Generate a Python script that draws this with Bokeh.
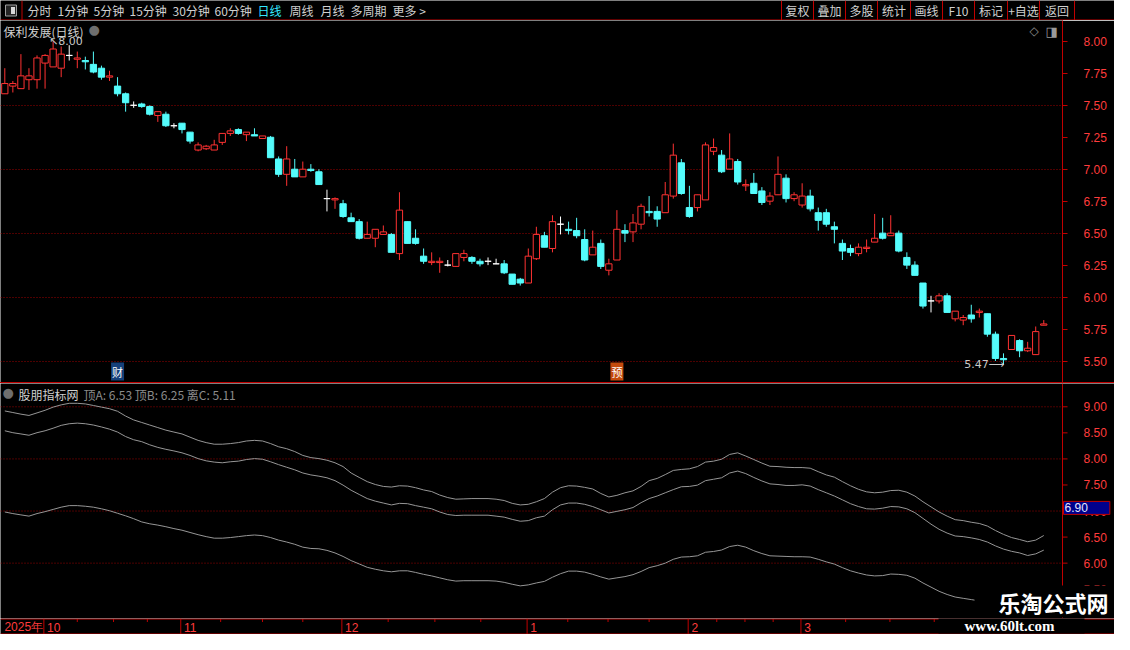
from bokeh.plotting import figure
from bokeh.models import Range1d, FixedTicker, Label, Span, ColumnDataSource, NumeralTickFormatter, Div
from bokeh.layouts import column
from bokeh.embed import file_html
from bokeh.resources import INLINE
from bokeh.core.properties import value

# ------------------------------------------------------------------ data
stock_name = "保利发展"
period_name = "日线"

opens = [7.59, 7.65, 7.63, 7.70, 7.70, 7.83, 7.80, 7.79, 7.89, 7.86,
         7.85, 7.82, 7.79, 7.72, 7.65, 7.59, 7.50, 7.51, 7.49, 7.42,
         7.43, 7.34, 7.36, 7.29, 7.15, 7.16, 7.15, 7.21, 7.28, 7.31,
         7.27, 7.27, 7.24, 7.25, 7.08, 6.96, 7.00, 6.94, 7.00, 6.98,
         6.77, 6.76, 6.73, 6.62, 6.59, 6.46, 6.46, 6.49, 6.49, 6.34,
         6.59, 6.46, 6.32, 6.27, 6.27, 6.25, 6.24, 6.31, 6.31, 6.28,
         6.28, 6.26, 6.26, 6.18, 6.14, 6.11, 6.30, 6.48, 6.38, 6.57,
         6.53, 6.52, 6.45, 6.33, 6.42, 6.21, 6.29, 6.52, 6.51, 6.57,
         6.67, 6.67, 6.66, 6.79, 7.05, 6.70, 6.70, 6.76, 7.14, 7.11,
         7.00, 7.06, 6.87, 6.89, 6.83, 6.75, 6.80, 6.93, 6.77, 6.72,
         6.79, 6.66, 6.66, 6.55, 6.42, 6.38, 6.34, 6.38, 6.43, 6.50,
         6.48, 6.50, 6.31, 6.25, 6.11, 5.97, 5.97, 6.01, 5.83, 5.82,
         5.86, 5.88, 5.87, 5.71, 5.52, 5.59, 5.66, 5.58, 5.55, 5.78]

highs = [7.79, 7.69, 7.90, 7.79, 7.89, 7.90, 8.00, 7.96, 7.97, 7.92,
         7.88, 7.92, 7.81, 7.77, 7.72, 7.60, 7.53, 7.52, 7.50, 7.45,
         7.45, 7.36, 7.36, 7.29, 7.21, 7.19, 7.23, 7.28, 7.32, 7.32,
         7.29, 7.32, 7.26, 7.26, 7.10, 7.18, 7.08, 7.06, 7.04, 7.00,
         6.84, 6.78, 6.76, 6.66, 6.61, 6.59, 6.53, 6.56, 6.50, 6.82,
         6.59, 6.53, 6.38, 6.35, 6.31, 6.29, 6.34, 6.37, 6.32, 6.30,
         6.31, 6.30, 6.29, 6.18, 6.15, 6.38, 6.55, 6.51, 6.64, 6.63,
         6.59, 6.62, 6.53, 6.52, 6.45, 6.30, 6.68, 6.57, 6.65, 6.73,
         6.79, 6.71, 6.90, 7.20, 7.08, 6.87, 6.80, 7.21, 7.24, 7.15,
         7.28, 7.08, 6.92, 6.97, 6.86, 6.82, 7.10, 6.96, 6.82, 6.89,
         6.84, 6.70, 6.69, 6.59, 6.45, 6.41, 6.42, 6.45, 6.65, 6.62,
         6.64, 6.52, 6.35, 6.28, 6.11, 6.01, 6.03, 6.03, 5.89, 5.86,
         5.94, 5.91, 5.87, 5.73, 5.56, 5.70, 5.67, 5.65, 5.77, 5.82]

lows = [7.59, 7.60, 7.63, 7.62, 7.63, 7.63, 7.80, 7.72, 7.85, 7.79,
        7.78, 7.75, 7.70, 7.69, 7.57, 7.45, 7.48, 7.48, 7.42, 7.37,
        7.33, 7.32, 7.28, 7.20, 7.14, 7.15, 7.15, 7.19, 7.26, 7.27,
        7.22, 7.26, 7.24, 7.09, 6.94, 6.87, 6.94, 6.94, 6.98, 6.88,
        6.67, 6.69, 6.62, 6.59, 6.45, 6.46, 6.39, 6.49, 6.35, 6.29,
        6.42, 6.41, 6.26, 6.25, 6.19, 6.24, 6.24, 6.28, 6.26, 6.24,
        6.25, 6.26, 6.18, 6.10, 6.09, 6.11, 6.29, 6.39, 6.35, 6.49,
        6.49, 6.46, 6.28, 6.33, 6.22, 6.17, 6.29, 6.43, 6.43, 6.53,
        6.63, 6.55, 6.66, 6.77, 6.80, 6.62, 6.67, 6.76, 7.11, 6.97,
        7.00, 6.88, 6.83, 6.81, 6.72, 6.72, 6.80, 6.74, 6.75, 6.70,
        6.67, 6.52, 6.55, 6.42, 6.29, 6.32, 6.32, 6.35, 6.43, 6.45,
        6.48, 6.35, 6.22, 6.17, 5.91, 5.88, 5.95, 5.88, 5.81, 5.78,
        5.80, 5.84, 5.69, 5.50, 5.47, 5.59, 5.53, 5.57, 5.55, 5.78]

closes = [7.67, 7.67, 7.73, 7.73, 7.87, 7.89, 7.94, 7.90, 7.89, 7.87,
          7.84, 7.76, 7.72, 7.73, 7.59, 7.52, 7.50, 7.49, 7.43, 7.45,
          7.34, 7.34, 7.31, 7.22, 7.19, 7.18, 7.19, 7.28, 7.30, 7.28,
          7.29, 7.26, 7.26, 7.09, 6.96, 7.08, 6.94, 7.00, 6.99, 6.88,
          6.77, 6.77, 6.63, 6.59, 6.46, 6.49, 6.53, 6.51, 6.35, 6.68,
          6.42, 6.42, 6.28, 6.28, 6.28, 6.25, 6.34, 6.34, 6.28, 6.26,
          6.28, 6.26, 6.19, 6.10, 6.11, 6.32, 6.49, 6.39, 6.59, 6.57,
          6.52, 6.48, 6.29, 6.39, 6.24, 6.26, 6.53, 6.50, 6.58, 6.71,
          6.66, 6.61, 6.80, 7.11, 6.81, 6.63, 6.80, 7.19, 7.17, 6.98,
          7.08, 6.90, 6.88, 6.81, 6.74, 6.79, 6.96, 6.77, 6.80, 6.79,
          6.69, 6.60, 6.57, 6.53, 6.36, 6.35, 6.39, 6.39, 6.46, 6.46,
          6.50, 6.36, 6.25, 6.17, 5.93, 5.97, 6.01, 5.88, 5.89, 5.84,
          5.83, 5.89, 5.71, 5.52, 5.51, 5.70, 5.58, 5.60, 5.73, 5.79]

indicator_name = "股朋指标网"
top_a = [8.920, 8.890, 8.859, 8.834, 8.883, 8.933, 8.994, 9.037, 9.067, 9.067,
         9.055, 9.025, 8.994, 8.963, 8.914, 8.822, 8.748, 8.699, 8.650, 8.601,
         8.552, 8.515, 8.479, 8.417, 8.356, 8.313, 8.282, 8.282, 8.294, 8.313,
         8.344, 8.356, 8.344, 8.294, 8.233, 8.196, 8.141, 8.067, 8.025, 8.006,
         7.975, 7.926, 7.853, 7.730, 7.645, 7.564, 7.509, 7.472, 7.460, 7.485,
         7.479, 7.448, 7.405, 7.374, 7.307, 7.258, 7.227, 7.233, 7.239, 7.239,
         7.239, 7.227, 7.202, 7.147, 7.117, 7.129, 7.178, 7.239, 7.362, 7.448,
         7.485, 7.479, 7.454, 7.423, 7.337, 7.270, 7.301, 7.350, 7.387, 7.472,
         7.583, 7.626, 7.699, 7.779, 7.798, 7.810, 7.853, 7.939, 7.957, 7.994,
         8.086, 8.117, 8.055, 7.988, 7.920, 7.859, 7.853, 7.840, 7.834, 7.834,
         7.822, 7.755, 7.693, 7.650, 7.564, 7.485, 7.417, 7.368, 7.350, 7.362,
         7.393, 7.399, 7.362, 7.288, 7.178, 7.080, 6.982, 6.902, 6.834, 6.816,
         6.785, 6.761, 6.712, 6.626, 6.552, 6.491, 6.454, 6.411, 6.442, 6.530]

top_b = [8.540, 8.503, 8.479, 8.454, 8.503, 8.540, 8.589, 8.644, 8.675, 8.687,
         8.675, 8.650, 8.613, 8.571, 8.515, 8.429, 8.368, 8.331, 8.270, 8.221,
         8.184, 8.153, 8.117, 8.067, 8.006, 7.963, 7.939, 7.926, 7.945, 7.957,
         7.988, 8.006, 7.994, 7.945, 7.890, 7.840, 7.791, 7.730, 7.693, 7.669,
         7.638, 7.583, 7.497, 7.399, 7.318, 7.239, 7.190, 7.153, 7.117, 7.147,
         7.141, 7.104, 7.074, 7.043, 6.982, 6.933, 6.914, 6.920, 6.920, 6.920,
         6.920, 6.902, 6.883, 6.840, 6.804, 6.816, 6.871, 6.902, 7.025, 7.117,
         7.153, 7.153, 7.129, 7.086, 7.025, 6.963, 6.994, 7.025, 7.067, 7.160,
         7.239, 7.288, 7.350, 7.411, 7.466, 7.472, 7.497, 7.583, 7.610, 7.638,
         7.730, 7.767, 7.718, 7.644, 7.577, 7.521, 7.509, 7.491, 7.491, 7.503,
         7.479, 7.411, 7.350, 7.288, 7.215, 7.141, 7.086, 7.043, 7.037, 7.055,
         7.086, 7.080, 7.043, 6.969, 6.859, 6.748, 6.650, 6.577, 6.521, 6.509,
         6.485, 6.454, 6.405, 6.331, 6.270, 6.227, 6.196, 6.147, 6.178, 6.250]

lev_c = [6.982, 6.951, 6.926, 6.902, 6.951, 6.988, 7.031, 7.074, 7.104, 7.104,
         7.092, 7.074, 7.043, 7.006, 6.957, 6.908, 6.853, 6.791, 6.755, 6.730,
         6.699, 6.663, 6.632, 6.589, 6.546, 6.509, 6.479, 6.479, 6.491, 6.509,
         6.528, 6.540, 6.528, 6.491, 6.442, 6.405, 6.362, 6.307, 6.282, 6.276,
         6.245, 6.196, 6.129, 6.049, 5.985, 5.920, 5.883, 5.853, 5.834, 5.853,
         5.853, 5.822, 5.785, 5.755, 5.718, 5.681, 5.656, 5.663, 5.663, 5.663,
         5.663, 5.656, 5.632, 5.595, 5.564, 5.583, 5.620, 5.650, 5.730, 5.798,
         5.847, 5.847, 5.828, 5.785, 5.736, 5.693, 5.718, 5.742, 5.779, 5.840,
         5.914, 5.951, 6.000, 6.074, 6.117, 6.123, 6.141, 6.209, 6.224, 6.252,
         6.319, 6.344, 6.307, 6.239, 6.184, 6.141, 6.135, 6.129, 6.123, 6.123,
         6.117, 6.074, 6.025, 5.982, 5.914, 5.853, 5.810, 5.773, 5.755, 5.761,
         5.791, 5.785, 5.767, 5.712, 5.620, 5.540, 5.460, 5.399, 5.350, 5.325,
         5.301, 5.276, 5.250, 5.180, 5.130, 5.080, 5.050, 5.020, 5.040, 5.110]

year_label = "2025年"
month_labels = ["10", "11", "12", "1", "2", "3"]
month_start = [6, 23, 43, 66, 86, 100]
week_marks = [10, 14.5, 18.7, 27.8, 33, 38, 48.6, 54.4, 60.1, 70.9, 75.9, 81,
              89.4, 92.9, 96.4, 105.4, 110.9, 116.4]

price_ticks = [5.50, 5.75, 6.00, 6.25, 6.50, 6.75, 7.00, 7.25, 7.50, 7.75, 8.00]
price_grid = [5.5, 6.0, 6.5, 7.0, 7.5]
ind_ticks = [5.5, 6.0, 6.5, 7.0, 7.5, 8.0, 8.5, 9.0]
ind_grid = [6.0, 7.0, 8.0, 9.0]
cursor_value = 6.90

events = ["财", "预"]
event_at = [15, 77]

periods = ["分时", "1分钟", "5分钟", "15分钟", "30分钟", "60分钟", "日线", "周线", "月线", "多周期", "更多 >"]
buttons = ["复权", "叠加", "多股", "统计", "画线", "F10", "标记", "+自选", "返回"]
watermark = "乐淘公式网"
watermark_url = "www.60lt.com"

# ------------------------------------------------------------------ layout / style
W = 1114
FW = 1062
PX = 8.054
X0 = 0.466
BLACK = "#000000"
RED_LINE = "#c00000"
RED_TEXT = "#ff3c3c"
GRID = "#9a0000"
UP = "#ff3232"
DOWN = "#54fcfc"
FLAT = "#ffffff"
TXT = "#d0d0d0"
GREY = "#969696"
CJK = "Noto Sans CJK SC"
NUM = "Liberation Sans"
period_x = [27, 57, 93, 129, 172, 214, 257, 289, 320, 350, 392]
active_period = "日线"
button_edges = [781, 813, 845, 877, 910, 942, 974, 1007, 1039, 1074]
event_colors = ["#15407a", "#c44a0c"]
cursor_y = 7.06

common = dict(output_backend="svg", toolbar_location=None,
              background_fill_color=BLACK, border_fill_color=BLACK,
              outline_line_color=None, min_border_left=0,
              min_border_top=0, min_border_bottom=0)


def style_right_axis(ax, ticks):
    ax.ticker = FixedTicker(ticks=ticks)
    ax.formatter = NumeralTickFormatter(format="0.00")
    ax.axis_line_color = RED_LINE
    ax.major_tick_line_color = RED_LINE
    ax.major_tick_out = 5
    ax.major_tick_in = 0
    ax.minor_tick_line_color = None
    ax.major_label_text_color = RED_TEXT
    ax.major_label_text_font = NUM
    ax.major_label_text_font_size = "12px"
    ax.major_label_standoff = 16


# ------------------------------------------------------------------ toolbar strip
t = figure(frame_width=W, frame_height=20, x_range=Range1d(0, W), y_range=Range1d(20, 0),
           x_axis_location=None, y_axis_location=None, min_border_right=0, **common)
t.xgrid.visible = False
t.ygrid.visible = False
t.segment(x0=[0], y0=[19.5], x1=[W], y1=[19.5], line_color=RED_LINE)
t.segment(x0=[21.5], y0=[0], x1=[21.5], y1=[19.5], line_color=RED_LINE)
t.quad(left=[5], right=[16], top=[4.5], bottom=[15.5], fill_color="#262626", line_color="#a0a0a0")
t.quad(left=[10.5], right=[14.5], top=[6.5], bottom=[13.5], fill_color="#d8d8d8", line_color=None)
t.text(x=period_x, y=[10] * len(periods), text=periods,
       text_color=["#33e8ff" if s == active_period else TXT for s in periods],
       text_align="left", text_baseline="middle",
       text_font=value(CJK), text_font_size="12px")
t.segment(x0=button_edges, y0=[0] * len(button_edges), x1=button_edges,
          y1=[19.5] * len(button_edges), line_color=RED_LINE)
btn_cx = [(a + b) / 2 for a, b in zip(button_edges[:-1], button_edges[1:])]
t.text(x=btn_cx, y=[10] * len(buttons), text=buttons, text_color=TXT,
       text_align="center", text_baseline="middle",
       text_font=value(CJK), text_font_size="12px")

# ------------------------------------------------------------------ price panel
xs = list(range(1, len(opens) + 1))
col = [UP if c > o else (DOWN if c < o else FLAT) for o, c in zip(opens, closes)]
fill = [BLACK if c > o else (DOWN if c < o else FLAT) for o, c in zip(opens, closes)]
src = ColumnDataSource(dict(
    x=xs, h=highs, l=lows,
    top=[max(o, c) for o, c in zip(opens, closes)],
    bot=[min(o, c) for o, c in zip(opens, closes)],
    col=col, fill=fill))

XR = Range1d(X0, X0 + FW / PX)
YR = Range1d(5.332, 8.163)
p = figure(frame_width=FW, frame_height=362, x_range=XR, y_range=YR,
           x_axis_location=None, y_axis_location="right",
           min_border_right=W - FW, **common)
style_right_axis(p.yaxis[0], price_ticks)
p.xgrid.visible = False
p.ygrid.ticker = FixedTicker(ticks=price_grid)
p.ygrid.grid_line_color = GRID
p.ygrid.grid_line_dash = "1 2"

p.segment(x0="x", y0="h", x1="x", y1="l", line_color="col", line_width=1, source=src)
p.vbar(x="x", width=0.78, top="top", bottom="bot", fill_color="fill",
       line_color="col", line_width=1, source=src)

i_hi = max(range(len(highs)), key=lambda i: highs[i])
i_lo = min(range(len(lows)), key=lambda i: lows[i])
p.text(x=[xs[i_hi]], y=[highs[i_hi]], text=[f"↖{highs[i_hi]:.2f}"],
       text_align="left", text_baseline="middle", x_offset=-4,
       text_color="#c8c8c8", text_font=value("DejaVu Sans"), text_font_size="11px")
p.text(x=[xs[i_lo]], y=[lows[i_lo]], text=[f"{lows[i_lo]:.2f}⟶"],
       text_align="right", text_baseline="middle", x_offset=1,
       text_color="#c8c8c8", text_font=value("DejaVu Sans"), text_font_size="11px")

p.add_layout(Label(x=X0, y=YR.end, x_offset=3, y_offset=-2,
                   text=f"{stock_name}({period_name})", text_baseline="top",
                   text_color=TXT, text_font=CJK, text_font_size="12px"))
p.add_layout(Label(x=X0, y=YR.end, x_offset=88, y_offset=-1, text="●",
                   text_baseline="top", text_color="#6e6e6e",
                   text_font="DejaVu Sans", text_font_size="13px"))
p.add_layout(Label(x=XR.end, y=YR.end, x_offset=-33, y_offset=-3, text="◇",
                   text_baseline="top", text_color="#8a8a8a",
                   text_font="DejaVu Sans", text_font_size="12px"))
p.add_layout(Label(x=XR.end, y=YR.end, x_offset=-17, y_offset=-3, text="◨",
                   text_baseline="top", text_color="#9a9a9a",
                   text_font="DejaVu Sans", text_font_size="13px"))
for ev, at, ec in zip(events, event_at, event_colors):
    p.add_layout(Label(x=at, y=YR.start, y_offset=2, text=ev, text_align="center",
                       text_baseline="bottom", text_color="#ffffff",
                       text_font=CJK, text_font_size="11px",
                       background_fill_color=ec, padding=1))

divider = Div(text="", width=W, height=1, margin=0,
              styles={"background-color": RED_LINE})

# ------------------------------------------------------------------ indicator panel
# full-width frame so that the value box and watermark in the scale column are not clipped
XI = Range1d(X0, X0 + W / PX)
AX = X0 + FW / PX          # position of the scale line, in candle units
YI = Range1d(4.938, 9.447)
q = figure(frame_width=W, frame_height=235, x_range=XI, y_range=YI,
           x_axis_location=None, y_axis_location=None, min_border_right=0, **common)
q.xgrid.visible = False
q.ygrid.visible = False
q.segment(x0=[X0] * len(ind_grid), y0=ind_grid, x1=[AX] * len(ind_grid), y1=ind_grid,
          line_color=GRID, line_dash="1 2", line_width=1)
for series in (top_a, top_b, lev_c):
    q.line(xs, series, line_color=GREY, line_width=1)
q.add_layout(Span(location=AX, dimension="height", line_color=RED_LINE, line_width=1))
q.ray(x=[AX] * len(ind_ticks), y=ind_ticks, length=5, length_units="screen",
      angle=0, line_color=RED_LINE, line_width=1)
q.text(x=[AX] * len(ind_ticks), y=ind_ticks, text=[f"{v:.2f}" for v in ind_ticks],
       x_offset=21, text_align="left", text_baseline="middle", text_color=RED_TEXT,
       text_font=value(NUM), text_font_size="12px")

q.add_layout(Label(x=X0, y=YI.end, x_offset=2, y_offset=-1, text="●",
                   text_baseline="top", text_color="#6e6e6e",
                   text_font="DejaVu Sans", text_font_size="13px"))
q.add_layout(Label(x=X0, y=YI.end, x_offset=18, y_offset=-2, text=indicator_name,
                   text_baseline="top", text_color=TXT,
                   text_font=CJK, text_font_size="12px"))
q.add_layout(Label(x=X0, y=YI.end, x_offset=83, y_offset=-2,
                   text=f"顶A: {top_a[-1]:.2f} 顶B: {top_b[-1]:.2f} 离C: {lev_c[-1]:.2f}",
                   text_baseline="top", text_color="#8c8c8c",
                   text_font=CJK, text_font_size="12px"))
q.add_layout(Label(x=AX, y=cursor_y, x_offset=1, text=f"{cursor_value:.2f}",
                   text_align="left", text_baseline="middle", text_color="#e4e4ff",
                   text_font=NUM, text_font_size="12px",
                   background_fill_color="#00008c", border_line_color=RED_LINE,
                   padding=dict(left=1, right=22, top=2, bottom=2)))
q.add_layout(Label(x=XI.end, y=YI.start, x_offset=-3, y_offset=1,
                   text=watermark, text_align="right", text_baseline="bottom",
                   text_color="#ffffff", text_font=CJK, text_font_style="bold",
                   text_font_size="22px", background_fill_color=BLACK,
                   padding=dict(left=24, right=3, top=0, bottom=0)))

# ------------------------------------------------------------------ date strip
XD = Range1d(X0, X0 + W / PX)
d = figure(frame_width=W, frame_height=16, x_range=XD, y_range=Range1d(0, 16),
           x_axis_location=None, y_axis_location=None, min_border_right=0, **common)
d.xgrid.visible = False
d.ygrid.visible = False
d.add_layout(Span(location=15.5, dimension="width", line_color=RED_LINE, line_width=1))
d.add_layout(Span(location=0.5, dimension="width", line_color=RED_LINE, line_width=1))
d.segment(x0=[m - 0.15 for m in month_start], y0=[0] * len(month_start),
          x1=[m - 0.15 for m in month_start], y1=[16] * len(month_start),
          line_color=RED_LINE)
d.segment(x0=week_marks, y0=[15.5] * len(week_marks), x1=week_marks,
          y1=[12.5] * len(week_marks), line_color=RED_LINE)
d.text(x=month_start, y=[7.5] * len(month_start), text=month_labels, x_offset=2,
       text_align="left", text_baseline="middle", text_color=RED_TEXT,
       text_font=value(NUM), text_font_size="12px")
d.text(x=[month_start[0]], y=[7.5], text=[year_label], x_offset=-2,
       text_align="right", text_baseline="middle", text_color=RED_TEXT,
       text_font=value(NUM), text_font_size="12px")
d.add_layout(Label(x=XD.end, y=1, x_offset=-30, y_offset=0, text=watermark_url,
                   text_align="right", text_baseline="bottom", text_color="#ffffff",
                   text_font="Liberation Serif", text_font_style="bold",
                   text_font_size="15px", background_fill_color=BLACK,
                   padding=dict(left=26, right=30, top=0, bottom=0)))

layout = column(t, p, divider, q, d, spacing=0)
open("out.html", "w").write(file_html(layout, INLINE))
